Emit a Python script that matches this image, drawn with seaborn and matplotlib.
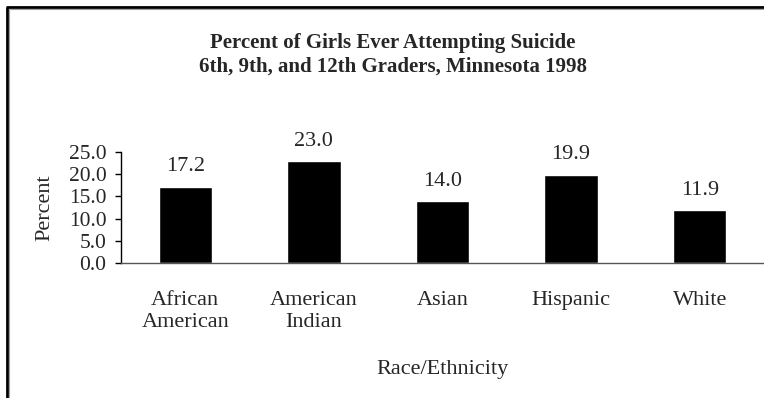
import matplotlib
matplotlib.use("Agg")
import matplotlib.pyplot as plt
from matplotlib.lines import Line2D
import seaborn as sns
import pandas as pd

categories = ["African\nAmerican", "American\nIndian", "Asian", "Hispanic", "White"]
percent = [17.2, 23.0, 14.0, 19.9, 11.9]
yticks = [0.0, 5.0, 10.0, 15.0, 20.0, 25.0]

title_lines = ["Percent of Girls Ever Attempting Suicide",
               "6th, 9th, and 12th Graders, Minnesota 1998"]

sns.set_theme(style="white")
plt.rcParams["font.family"] = ["Liberation Serif", "DejaVu Serif"]

df = pd.DataFrame({"Race/Ethnicity": categories, "Percent": percent})

fig = plt.figure(figsize=(7.64, 3.98), dpi=100)
ax = fig.add_axes([121 / 764, 1 - 263 / 398, 1 - 121 / 764, 111 / 398])

sns.barplot(data=df, x="Race/Ethnicity", y="Percent", color="black",
            width=0.415, saturation=1, ax=ax)

ax.set_ylim(0, 25)
ax.set_xlim(-0.5, 4.5)
ax.set_yticks(yticks)
ax.set_yticklabels([f"{v:.1f}" for v in yticks], fontsize=15.5)
ax.tick_params(axis="y", left=True, length=4.5, width=1, color="black", pad=6)
ax.tick_params(axis="x", bottom=False, labelsize=16, pad=14)
for lbl in ax.get_xticklabels():
    lbl.set_linespacing(1.25)

for side in ["top", "right"]:
    ax.spines[side].set_visible(False)
ax.spines["left"].set_color("black")
ax.spines["bottom"].set_color("#555555")
ax.spines["left"].set_linewidth(1)
ax.spines["bottom"].set_linewidth(1)

ax.set_ylabel("Percent", fontsize=16, labelpad=10)
ax.set_xlabel("Race/Ethnicity", fontsize=16, labelpad=20)

for i, v in enumerate(percent):
    ax.annotate(f"{v:.1f}", (i, v), xytext=(0, 11), textcoords="offset points",
                ha="center", va="baseline", fontsize=16, clip_on=False)

fig.text(393 / 764, 1 - 43 / 398, title_lines[0], ha="center", va="center",
         fontsize=15, fontweight="bold")
fig.text(393 / 764, 1 - 67 / 398, title_lines[1], ha="center", va="center",
         fontsize=15, fontweight="bold")

# outer frame: left and top edges, with a faint grey shade inside
fig.add_artist(Line2D([7 / 764, 7 / 764], [0, 1 - 7 / 398], transform=fig.transFigure,
                      color="black", linewidth=2, solid_capstyle="butt"))
fig.add_artist(Line2D([6 / 764, 1], [1 - 7 / 398, 1 - 7 / 398], transform=fig.transFigure,
                      color="black", linewidth=2, solid_capstyle="butt"))
fig.add_artist(Line2D([8.8 / 764, 8.8 / 764], [0, 1 - 8.8 / 398], transform=fig.transFigure,
                      color="#a0a0a0", linewidth=0.8, solid_capstyle="butt"))
fig.add_artist(Line2D([8.8 / 764, 1], [1 - 8.8 / 398, 1 - 8.8 / 398], transform=fig.transFigure,
                      color="#a0a0a0", linewidth=0.8, solid_capstyle="butt"))

fig.savefig("out.png", dpi=100)
